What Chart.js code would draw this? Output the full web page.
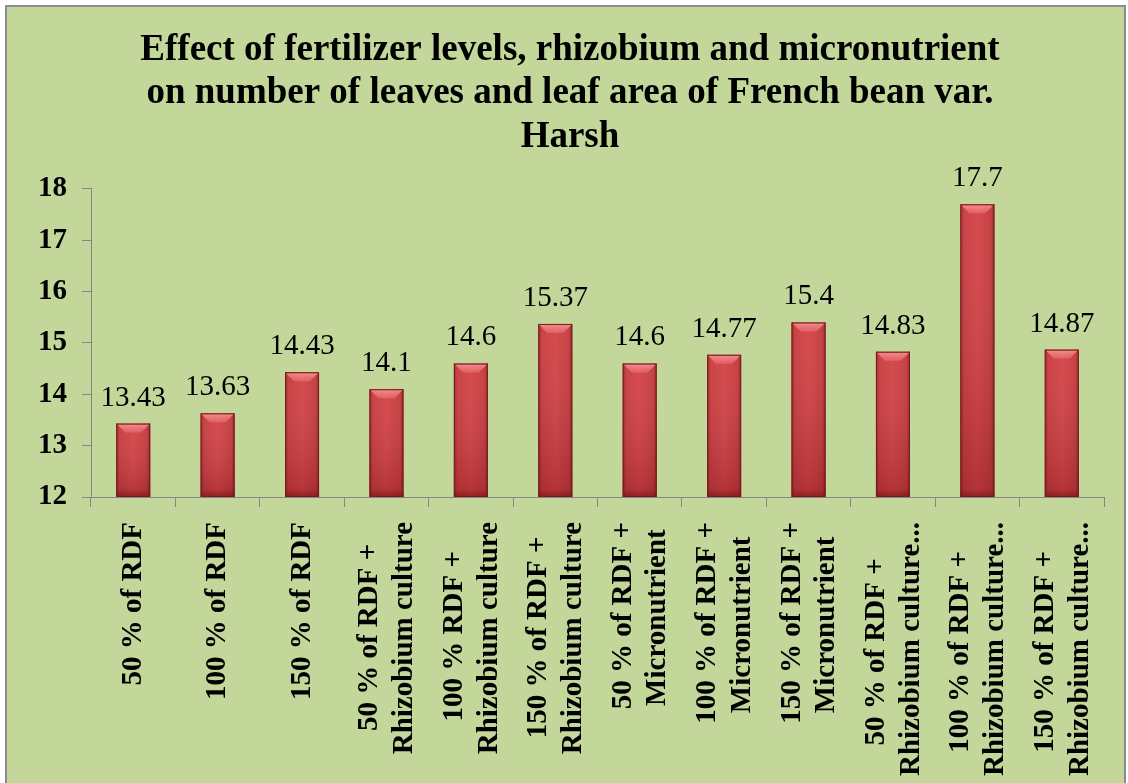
<!DOCTYPE html>
<html>
<head>
<meta charset="utf-8">
<script src="https://cdn.jsdelivr.net/npm/chart.js@4.4.0/dist/chart.umd.min.js"></script>
<style>
    html, body { margin: 0; padding: 0; background: #ffffff; }
    #frame { position: absolute; left: 5px; top: 5px; width: 1117px; height: 800px; border: 2px solid #8c8c8c; background: #c4d79b; }
    #wrap { position: absolute; left: 0; top: 0; width: 1128px; height: 783px; }
</style>
</head>
<body>
<div id="frame"></div>
<div id="wrap"><canvas id="chart" width="1128" height="783"></canvas></div>
<script>
// --- DATA ---
const treatments = [
    '50 % of RDF',
    '100 % of RDF',
    '150 % of RDF',
    ['50 % of RDF +', 'Rhizobium culture'],
    ['100 % RDF +', 'Rhizobium culture'],
    ['150 % of RDF +', 'Rhizobium culture'],
    ['50 % of RDF +', 'Micronutrient'],
    ['100 % of RDF +', 'Micronutrient'],
    ['150 % of RDF +', 'Micronutrient'],
    ['50 % of RDF +', 'Rhizobium culture...'],
    ['100 % of RDF +', 'Rhizobium culture...'],
    ['150 % of RDF +', 'Rhizobium culture...']
];
const leafNumbers = [13.43, 13.63, 14.43, 14.1, 14.6, 15.37, 14.6, 14.77, 15.4, 14.83, 17.7, 14.87];
const yMin = 12;
const yMax = 18;
const yStep = 1;
const titleLines = [
    'Effect of fertilizer levels, rhizobium and micronutrient',
    'on number of leaves and leaf area of French bean var.',
    'Harsh'
];

const SERIF = '"Liberation Serif", "Times New Roman", serif';
const AXIS_GREY = '#868686';
const LABEL_SIZE = 29;
const HALF_LINE = 16.5;

// rotated labels are right-aligned by Chart.js; pad the short line so both lines look centred
const measureCtx = document.createElement('canvas').getContext('2d');
measureCtx.font = 'bold ' + LABEL_SIZE + 'px ' + SERIF;
function centreLines(label) {
    if (!Array.isArray(label)) return ['', label]; // empty first line keeps single labels on the tick
    const widths = label.map(l => measureCtx.measureText(l).width);
    const widest = Math.max(...widths);
    const space = measureCtx.measureText(' ').width;
    return label.map((l, i) => l + ' '.repeat(Math.round((widest - widths[i]) / 2 / space)));
}

// --- BAR SHADING (cylinder look, drawn over the library's bar elements) ---
const barShading = {
    id: 'barShading',
    afterDatasetsDraw(chart) {
        const ctx = chart.ctx;
        const area = chart.chartArea;
        const meta = chart.getDatasetMeta(0);
        meta.data.forEach(bar => {
            const { x, y, base, width } = bar.getProps(['x', 'y', 'base', 'width'], true);
            const bottom = Math.min(base, area.bottom);
            const h = bottom - y;
            const left = x - width / 2;
            const right = x + width / 2;
            ctx.save();
            // top light -> bottom dark
            const v = ctx.createLinearGradient(0, y, 0, bottom);
            v.addColorStop(0, 'rgba(255,255,255,0.06)');
            v.addColorStop(1, 'rgba(60,0,4,0.22)');
            ctx.fillStyle = v;
            ctx.fillRect(left, y, width, h);
            // darker sides
            const g = ctx.createLinearGradient(left, 0, right, 0);
            g.addColorStop(0, 'rgba(80,8,10,0.45)');
            g.addColorStop(0.1, 'rgba(80,8,10,0.1)');
            g.addColorStop(0.5, 'rgba(80,8,10,0)');
            g.addColorStop(0.9, 'rgba(80,8,10,0.12)');
            g.addColorStop(1, 'rgba(80,8,10,0.5)');
            ctx.fillStyle = g;
            ctx.fillRect(left, y, width, h);
            // top bevel
            const bevel = Math.min(9, h / 2);
            const b = ctx.createLinearGradient(0, y, 0, y + bevel);
            b.addColorStop(0, 'rgba(255,170,170,0.75)');
            b.addColorStop(1, 'rgba(255,140,140,0.35)');
            ctx.beginPath();
            ctx.moveTo(left + 1, y + 1);
            ctx.lineTo(right - 1, y + 1);
            ctx.lineTo(right - bevel, y + bevel);
            ctx.lineTo(left + bevel, y + bevel);
            ctx.closePath();
            ctx.fillStyle = b;
            ctx.fill();
            // bottom shade
            const sh = ctx.createLinearGradient(0, bottom - 8, 0, bottom);
            sh.addColorStop(0, 'rgba(70,5,8,0)');
            sh.addColorStop(1, 'rgba(70,5,8,0.35)');
            ctx.fillStyle = sh;
            ctx.fillRect(left, bottom - 8, width, 8);
            ctx.strokeStyle = '#7a1c1f';
            ctx.lineWidth = 1;
            ctx.strokeRect(left + 0.5, y + 0.5, width - 1, h - 1);
            ctx.restore();
        });
    }
};

// --- VALUE LABELS ---
const valueLabels = {
    id: 'valueLabels',
    afterDatasetsDraw(chart) {
        const ctx = chart.ctx;
        const meta = chart.getDatasetMeta(0);
        ctx.save();
        ctx.font = '29px ' + SERIF;
        ctx.fillStyle = '#000000';
        ctx.textAlign = 'center';
        ctx.textBaseline = 'alphabetic';
        meta.data.forEach((bar, i) => {
            ctx.fillText(String(leafNumbers[i]), bar.x, bar.y - 18);
        });
        ctx.restore();
    }
};

const ctx = document.getElementById('chart').getContext('2d');
new Chart(ctx, {
    type: 'bar',
    data: {
        labels: treatments,
        datasets: [{
            data: leafNumbers,
            backgroundColor: '#d43f42',
            borderWidth: 0,
            barPercentage: 0.403,
            categoryPercentage: 1.0
        }]
    },
    options: {
        responsive: false,
        animation: false,
        layout: { padding: { left: 12, right: 0, top: 0, bottom: 0 } },
        plugins: {
            legend: { display: false },
            tooltip: { enabled: false },
            title: {
                display: true,
                text: titleLines,
                color: '#000000',
                font: { family: SERIF, size: 37, weight: 'bold', lineHeight: 1.17 },
                padding: { top: 29, bottom: 30 }
            }
        },
        scales: {
            x: {
                grid: { display: true, drawOnChartArea: false, color: AXIS_GREY, tickLength: 10, offset: true },
                border: { display: true, color: AXIS_GREY, width: 1 },
                ticks: {
                    autoSkip: false,
                    minRotation: 90,
                    maxRotation: 90,
                    padding: 15,
                    labelOffset: -HALF_LINE,
                    color: '#000000',
                    font: (c) => ({
                        family: SERIF, size: LABEL_SIZE, weight: 'bold',
                        lineHeight: Array.isArray(treatments[c.index]) ? 1.2 : HALF_LINE + 'px'
                    }),
                    callback: function (value, index) { return centreLines(treatments[index]); }
                },
                afterFit(scale) {
                    scale.height = 286;
                    scale.paddingLeft = 0;
                    scale.paddingRight = 0;
                }
            },
            y: {
                min: yMin,
                max: yMax,
                grid: { display: true, drawOnChartArea: false, color: AXIS_GREY, tickLength: 9 },
                border: { display: true, color: AXIS_GREY, width: 1 },
                ticks: {
                    stepSize: yStep,
                    padding: 15,
                    color: '#000000',
                    font: { family: SERIF, size: 29, weight: 'bold' }
                },
                afterFit(scale) { scale.width = 79; }
            },
            // empty right-hand axis that only reserves the margin on the right
            yRight: {
                position: 'right',
                display: true,
                grid: { display: false },
                border: { display: false },
                ticks: { display: false },
                afterFit(scale) { scale.width = 24; }
            }
        }
    },
    plugins: [barShading, valueLabels]
});
</script>
</body>
</html>
